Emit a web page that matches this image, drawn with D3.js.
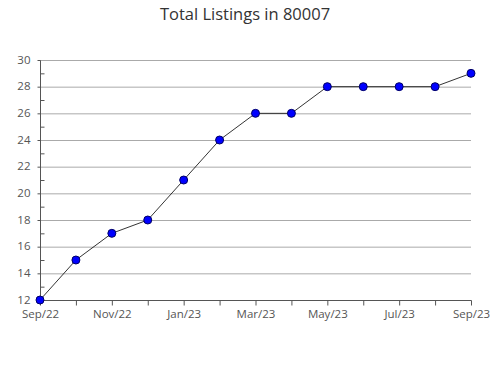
<!DOCTYPE html>
<html><head><meta charset="utf-8">
<script src="https://cdn.jsdelivr.net/npm/d3@7"></script>
<style>body{margin:0;background:#fff}svg{display:block}</style>
</head><body><svg id="c" width="490" height="380"></svg>
<script>
const months = ["Sep/22","Oct/22","Nov/22","Dec/22","Jan/23","Feb/23","Mar/23","Apr/23","May/23","Jun/23","Jul/23","Aug/23","Sep/23"];
const values = [12,15,17,18,21,24,26,26,28,28,28,28,29];
const yTicks = [12,14,16,18,20,22,24,26,28,30];
const title = "Total Listings in 80007";

const svg = d3.select("#c");
const x = d3.scalePoint().domain(months).range([40,471]);
const y = d3.scaleLinear().domain([12,30]).range([300,60]);
const font = "'Open Sans', sans-serif";

svg.append("text").attr("x",245).attr("y",20).attr("text-anchor","middle")
  .attr("font-family",font).attr("font-size",16.5).attr("fill","#333").text(title);

// gridlines
svg.append("g").selectAll("line").data(yTicks.filter(d=>d>12)).join("line")
  .attr("x1",40).attr("x2",471).attr("y1",d=>y(d)+0.5).attr("y2",d=>y(d)+0.5)
  .attr("stroke","#aaa").attr("stroke-width",1);

// y axis
const ya = svg.append("g").attr("transform","translate(40.5,0.5)");
ya.append("line").attr("y1",y(30)).attr("y2",y(12)).attr("stroke","#555");
ya.selectAll("line.maj").data(yTicks).join("line").attr("class","maj")
  .attr("x1",-3).attr("x2",0).attr("y1",d=>y(d)).attr("y2",d=>y(d)).attr("stroke","#555");
ya.selectAll("line.min").data(d3.range(13,30,2)).join("line").attr("class","min")
  .attr("x1",0).attr("x2",4).attr("y1",d=>y(d)).attr("y2",d=>y(d)).attr("stroke","#555");
ya.selectAll("text").data(yTicks).join("text")
  .attr("x",-10).attr("y",d=>y(d)-1).attr("dy","0.35em").attr("text-anchor","end")
  .attr("font-family",font).attr("font-size",11.5).attr("fill","#555").text(d=>d);

// x axis
const xa = svg.append("g").attr("transform","translate(0.5,300.5)");
xa.append("line").attr("x1",40).attr("x2",471).attr("stroke","#555");
xa.selectAll("line.t").data(months).join("line").attr("class","t")
  .attr("x1",d=>x(d)).attr("x2",d=>x(d)).attr("y1",0).attr("y2",5).attr("stroke","#555");
xa.selectAll("text").data(months.filter((d,i)=>i%2===0)).join("text")
  .attr("x",d=>x(d)).attr("y",17).attr("text-anchor","middle")
  .attr("font-family",font).attr("font-size",11.5).attr("fill","#555").text(d=>d);

// line
const data = months.map((m,i)=>({m, v:values[i]}));
svg.append("path").datum(data).attr("fill","none").attr("stroke","#000").attr("stroke-width",0.8)
  .attr("d", d3.line().x(d=>x(d.m)).y(d=>y(d.v)));

svg.append("g").selectAll("circle").data(data).join("circle")
  .attr("cx",d=>x(d.m)).attr("cy",d=>y(d.v)).attr("r",4)
  .attr("fill","#0000ff").attr("stroke","#000066").attr("stroke-width",1);
</script></body></html>
